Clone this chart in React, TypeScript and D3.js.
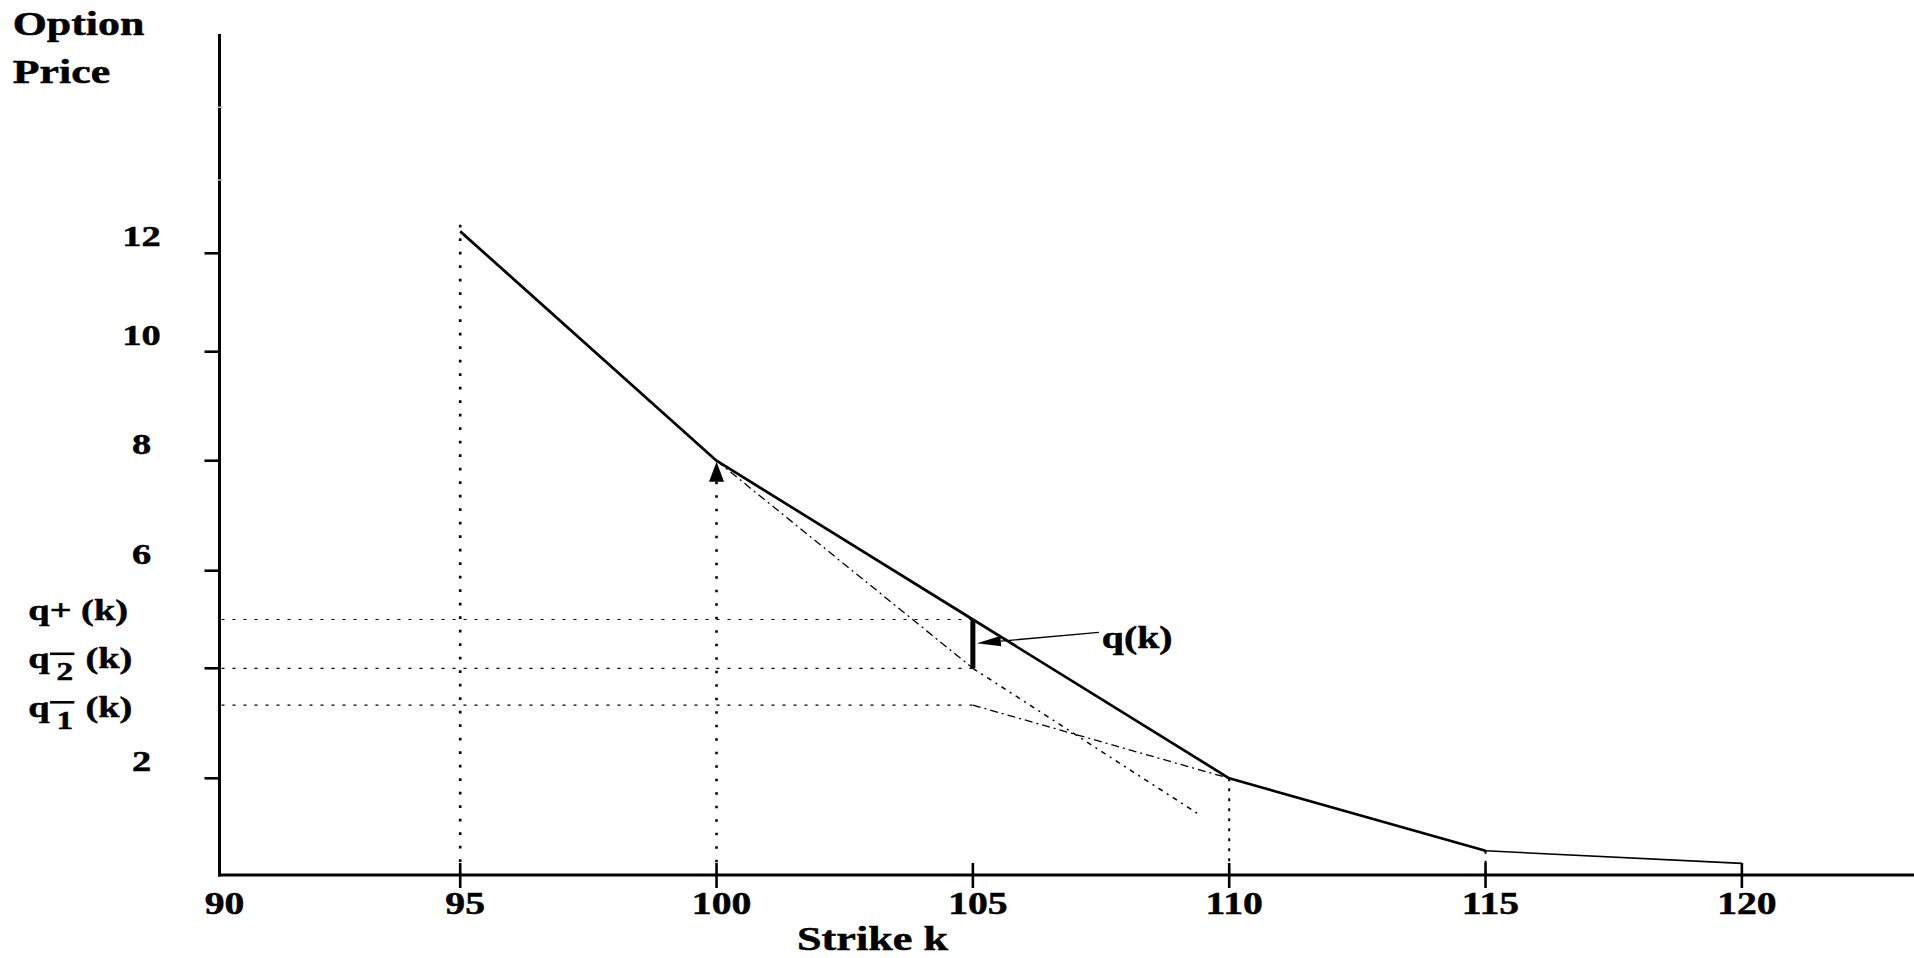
import React from 'react';
import * as d3 from 'd3';

// ---------- data ----------
const strikes = [95, 100, 105, 110, 115, 120];
const optionPrices = [12.5, 8, 5, 2, 0.5, 0.24];

const xTickValues = [90, 95, 100, 105, 110, 115, 120];
const xTickLabels = ['90', '95', '100', '105', '110', '115', '120'];
const yTickValues = [2, 4, 6, 8, 10, 12];
const yTickLabels = ['2', '', '6', '8', '10', '12'];
const yMinorTicks = [13.67, 15.33];

const kStar = 105;
const qPlus = 5;
const qMinus2 = 4;
const qMinus1 = 3.33;
const qLevels = [qPlus, qMinus2, qMinus1];
const qSubs = ['+', '2', '1'];

// chord from (100,8) through q2 at k*
const chord1K = [100, 105, 109.4];
const chord1P = [8, 4, 1.26];
// chord from q1 at k* to (110,2)
const chord2K = [105, 110];
const chord2P = [3.33, 2];

// vertical dotted guides
const guideK = [95, 100, 110, 115];
const guideTop = [12.65, 8, 2, 0.5];

// ---------- layout ----------
const W = 1914;
const H = 958;
const FONT = '"Liberation Serif", "Times New Roman", Times, serif';
const SX = 1.28;
const TEXT_STROKE = 0.5;

const x = d3.scaleLinear().domain([90, 95, 125]).range([219.5, 460.2, 1998.2]);
const y = d3
  .scaleLinear()
  .domain([0, 2, 4, 6, 8, 10, 12, 17])
  .range([875, 778.3, 668.3, 570.7, 460.7, 351.7, 253.3, 34]);

const T = ({ tx, ty, size, anchor = 'start', sx = SX, children }: any) => (
  <text
    transform={`translate(${tx},${ty}) scale(${sx},1)`}
    fontSize={size}
    fontFamily={FONT}
    fontWeight="bold"
    textAnchor={anchor}
    fill="#000"
    stroke="#000"
    strokeWidth={TEXT_STROKE}
  >
    {children}
  </text>
);

export default function App() {
  const pts = strikes.map((k, i) => [x(k), y(optionPrices[i])] as [number, number]);
  const line = d3.line();
  const thickPath = line(pts.slice(0, 5)) || '';
  const thinPath = line(pts.slice(4)) || '';
  const c1 = chord1K.map((k, i) => [x(k), y(chord1P[i])] as [number, number]);
  const c2 = chord2K.map((k, i) => [x(k), y(chord2P[i])] as [number, number]);

  const x0 = x(90);
  const y0 = y(0);

  // arrow at (100, 8)
  const ax = x(100);
  const ay = y(8);

  // q(k) annotation
  const barX = x(kStar);
  const tipX = barX + 4;
  const tipY = y((qPlus + qMinus2) / 2) - 0.6;
  const lblX = barX + 129;
  const lblY = tipY + 5;
  const lineEnd: [number, number] = [lblX - 3, tipY - 11];
  const dx = lineEnd[0] - tipX;
  const dy = lineEnd[1] - tipY;
  const len = Math.hypot(dx, dy);
  const ux = dx / len;
  const uy = dy / len;
  const hl = 24;
  const hw = 5.2;
  const hb: [number, number] = [tipX + ux * hl, tipY + uy * hl];
  const head = [
    [tipX, tipY],
    [hb[0] - uy * hw, hb[1] + ux * hw],
    [hb[0] + uy * hw, hb[1] - ux * hw],
  ]
    .map((p) => p.join(','))
    .join(' ');

  // q label baselines: stacked with a minimum gap so they do not collide
  const qGap = 48.5;
  const qBase: number[] = [];
  qLevels.forEach((q, i) => {
    const b = y(q);
    qBase.push(i === 0 ? b : Math.max(b, qBase[i - 1] + qGap));
  });

  return (
    <svg
      width={W}
      height={H}
      viewBox={`0 0 ${W} ${H}`}
      style={{ position: 'absolute', left: 0, top: 0, display: 'block', background: '#fff' }}
    >
      <rect width={W} height={H} fill="#fff" />

      {/* horizontal dotted q levels */}
      {qLevels.map((q, i) => (
        <line
          key={'qh' + i}
          x1={x0 + 2}
          x2={x(kStar)}
          y1={y(q)}
          y2={y(q)}
          stroke="#000"
          strokeWidth={1.2}
          strokeDasharray="3,8"
        />
      ))}

      {/* vertical dotted guides */}
      {guideK.map((k, i) => (
        <line
          key={'gv' + i}
          x1={x(k)}
          x2={x(k)}
          y1={i === 1 ? ay + 21 : y(guideTop[i])}
          y2={y0}
          stroke="#000"
          strokeWidth={i >= 2 ? 2 : 2.6}
          strokeDasharray={i >= 2 ? '3,7' : '2.6,10.9'}
        />
      ))}

      {/* chords */}
      <path d={line(c1.slice(0, 2)) || ''} fill="none" stroke="#000" strokeWidth={1.3} strokeDasharray="8,4,2,4" />
      <path d={line(c1.slice(1)) || ''} fill="none" stroke="#000" strokeWidth={1.5} strokeDasharray="5,5,2,5" />
      <path d={line(c2) || ''} fill="none" stroke="#000" strokeWidth={1.3} strokeDasharray="8,4,2,4" />

      {/* main price curve */}
      <path d={thickPath} fill="none" stroke="#000" strokeWidth={2.7} strokeLinejoin="round" />
      <path d={thinPath} fill="none" stroke="#000" strokeWidth={1.6} />

      {/* arrow at (100,8) */}
      <polygon points={`${ax},${ay + 1} ${ax - 7.5},${ay + 21} ${ax + 7.5},${ay + 21}`} fill="#000" />

      {/* q(k) bar */}
      <line x1={barX} x2={barX} y1={y(qPlus)} y2={y(qMinus2)} stroke="#000" strokeWidth={5} />
      <line x1={hb[0]} y1={hb[1]} x2={lineEnd[0]} y2={lineEnd[1]} stroke="#000" strokeWidth={1.3} />
      <polygon points={head} fill="#000" />
      <T tx={lblX} ty={lblY} size={31}>
        q(k)
      </T>

      {/* axes */}
      <line x1={x0} x2={x0} y1={y(17)} y2={y0 + 1.5} stroke="#000" strokeWidth={3} />
      <line x1={x0 - 1.5} x2={W} y1={y0} y2={y0} stroke="#000" strokeWidth={3} />

      {/* y ticks */}
      {yTickValues.map((v, i) => (
        <g key={'yt' + i}>
          <line x1={x0 - 15} x2={x0} y1={y(v)} y2={y(v)} stroke="#000" strokeWidth={2.6} />
          {yTickLabels[i] && (
            <T tx={x0 - 78} ty={y(v) - 7} size={30} anchor="middle">
              {yTickLabels[i]}
            </T>
          )}
        </g>
      ))}
      {yMinorTicks.map((v, i) => (
        <line key={'ym' + i} x1={x0 - 2} x2={x0 + 3} y1={y(v)} y2={y(v)} stroke="#bbb" strokeWidth={1.5} />
      ))}

      {/* x ticks */}
      {xTickValues.map((v, i) => (
        <g key={'xt' + i}>
          {i > 0 && <line x1={x(v)} x2={x(v)} y1={y0 - 12} y2={y0 + 13} stroke="#000" strokeWidth={2.6} />}
          <T tx={x(v) + 5} ty={y0 + 39} size={31} anchor="middle">
            {xTickLabels[i]}
          </T>
        </g>
      ))}

      {/* q labels: q+ (k), q with barred subscript 2 / 1 */}
      {qLevels.map((q, i) => (
        <g key={'ql' + i} transform={`translate(28.3,${qBase[i]}) scale(${SX},1)`}>
          <text
            fontFamily={FONT}
            fontWeight="bold"
            fontSize={30}
            fill="#000"
            stroke="#000"
            strokeWidth={TEXT_STROKE}
          >
            {i === 0 ? (
              'q+ (k)'
            ) : (
              <>
                q
                <tspan x={22} y={12} fontSize={26}>
                  {qSubs[i]}
                </tspan>
                <tspan x={44.6} y={0}>
                  (k)
                </tspan>
              </>
            )}
          </text>
          {i > 0 && <line x1={17} x2={36} y1={-14.5} y2={-14.5} stroke="#000" strokeWidth={2.6} />}
        </g>
      ))}

      {/* axis titles */}
      <T tx={12.7} ty={35} size={33} sx={1.33}>
        Option
      </T>
      <T tx={12.7} ty={83.3} size={33} sx={1.33}>
        Price
      </T>
      <T tx={797} ty={950} size={34} sx={1.3}>
        Strike k
      </T>
    </svg>
  );
}
